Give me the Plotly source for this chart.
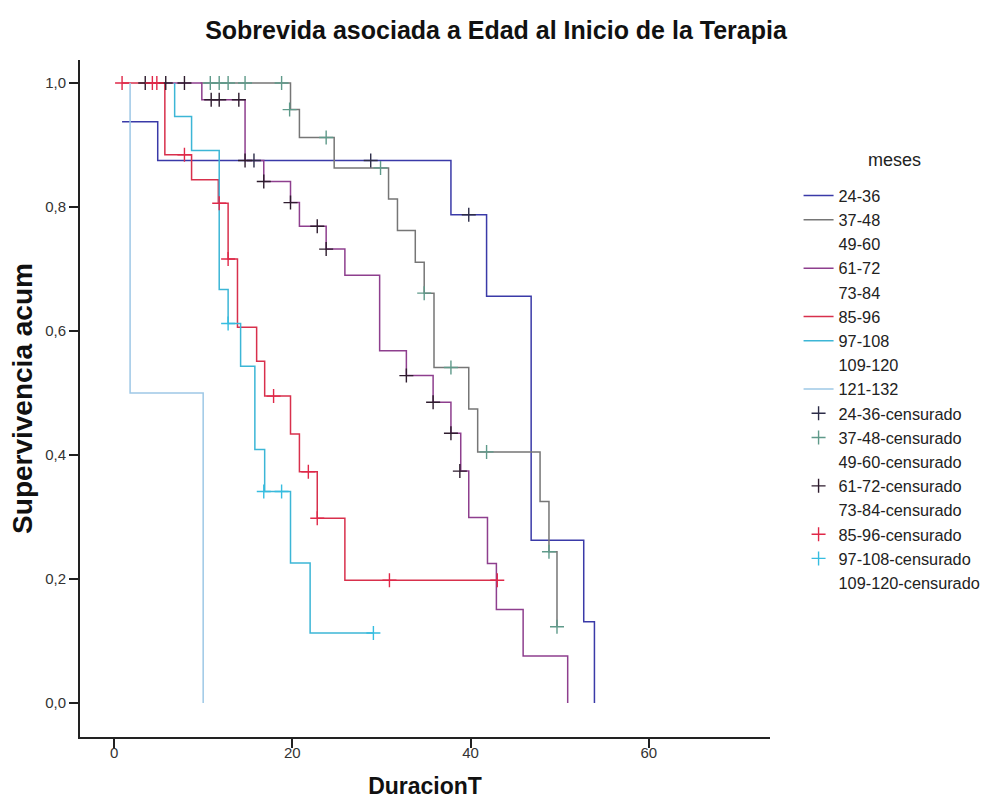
import plotly.graph_objects as go

# Kaplan-Meier step data per age group (meses): event times and cumulative survival
groups = ["24-36", "37-48", "49-60", "61-72", "73-84", "85-96", "97-108", "109-120", "121-132"]

t_24_36 = [0.9, 4.9, 37.8, 41.8, 46.8, 52.7, 53.9]
s_24_36 = [0.9375, 0.875, 0.7875, 0.656, 0.2625, 0.131, 0.0]
ct_24_36 = [15.7, 28.8, 39.8]
cs_24_36 = [0.875, 0.875, 0.7875]

t_37_48 = [9.7, 19.8, 20.8, 24.7, 30.8, 31.8, 33.8, 34.8, 35.9, 39.8, 40.8, 47.8, 48.8, 49.7]
s_37_48 = [1.0, 0.957, 0.912, 0.863, 0.813, 0.762, 0.711, 0.661, 0.541, 0.474, 0.405, 0.325, 0.244, 0.123]
ct_37_48 = [10.8, 11.8, 12.8, 14.7, 18.8, 19.7, 23.8, 29.9, 34.8, 37.8, 41.8, 48.8, 49.7]
cs_37_48 = [1.0, 1.0, 1.0, 1.0, 1.0, 0.957, 0.912, 0.863, 0.661, 0.541, 0.405, 0.244, 0.123]

t_61_72 = [3.5, 9.85, 14.7, 16.8, 19.8, 20.8, 23.8, 25.9, 29.8, 32.8, 35.8, 37.8, 38.9, 39.8, 41.9, 42.9, 45.9, 50.9]
s_61_72 = [1.0, 0.973, 0.875, 0.841, 0.807, 0.769, 0.732, 0.69, 0.568, 0.528, 0.485, 0.435, 0.374, 0.299, 0.225, 0.151, 0.076, 0.0]
ct_61_72 = [3.5, 5.8, 7.9, 10.9, 11.8, 14.0, 14.7, 16.8, 19.8, 22.8, 23.8, 32.8, 35.8, 37.8, 38.8]
cs_61_72 = [1.0, 1.0, 1.0, 0.973, 0.973, 0.973, 0.875, 0.841, 0.807, 0.769, 0.732, 0.528, 0.485, 0.435, 0.374]

t_85_96 = [0.9, 5.7, 8.7, 11.7, 12.8, 13.85, 16.0, 16.9, 19.8, 20.8, 22.8, 25.9, 43.0]
s_85_96 = [1.0, 0.884, 0.844, 0.806, 0.716, 0.606, 0.551, 0.495, 0.434, 0.373, 0.298, 0.198, 0.198]
ct_85_96 = [0.9, 4.3, 4.8, 7.9, 11.8, 12.8, 17.9, 21.8, 22.8, 30.9, 43.0]
cs_85_96 = [1.0, 1.0, 1.0, 0.884, 0.806, 0.716, 0.495, 0.373, 0.298, 0.198, 0.198]

t_97_108 = [6.8, 6.8, 8.7, 11.8, 12.8, 14.2, 15.8, 16.9, 19.8, 22.0, 29.1]
s_97_108 = [1.0, 0.946, 0.891, 0.667, 0.612, 0.543, 0.409, 0.341, 0.226, 0.113, 0.113]
ct_97_108 = [12.8, 16.8, 18.8, 29.1]
cs_97_108 = [0.612, 0.341, 0.341, 0.113]

t_121_132 = [1.8, 1.8, 10.0]
s_121_132 = [1.0, 0.5, 0.0]

# groups without observations keep a legend entry only
EMPTY = ([None], [None])

curves = {
    "24-36": (t_24_36, s_24_36),
    "37-48": (t_37_48, s_37_48),
    "49-60": EMPTY,
    "61-72": (t_61_72, s_61_72),
    "73-84": EMPTY,
    "85-96": (t_85_96, s_85_96),
    "97-108": (t_97_108, s_97_108),
    "109-120": EMPTY,
    "121-132": (t_121_132, s_121_132),
}
censored = {
    "24-36": (ct_24_36, cs_24_36),
    "37-48": (ct_37_48, cs_37_48),
    "49-60": EMPTY,
    "61-72": (ct_61_72, cs_61_72),
    "73-84": EMPTY,
    "85-96": (ct_85_96, cs_85_96),
    "97-108": (ct_97_108, cs_97_108),
    "109-120": EMPTY,
}

CLEAR = "rgba(255,255,255,0)"
line_colors = {
    "24-36": "#3a3aa8",
    "37-48": "#767676",
    "49-60": CLEAR,
    "61-72": "#8e3f8e",
    "73-84": CLEAR,
    "85-96": "#d8304c",
    "97-108": "#3cb6d6",
    "109-120": CLEAR,
    "121-132": "#9ec8e6",
}
mark_colors = {
    "24-36": "#2c2c48",
    "37-48": "#5f9a8a",
    "49-60": CLEAR,
    "61-72": "#2e1c2e",
    "73-84": CLEAR,
    "85-96": "#e02848",
    "97-108": "#36bde0",
    "109-120": CLEAR,
}

FONT = "Liberation Sans, Arial, Helvetica, sans-serif"

fig = go.Figure()

for g in groups:
    xs, ys = curves[g]
    fig.add_trace(go.Scatter(
        x=xs, y=ys, mode="lines", name=g,
        line=dict(color=line_colors[g], width=1.5, shape="hv"),
        showlegend=True,
    ))

for g in groups[:-1]:
    xs, ys = censored[g]
    fig.add_trace(go.Scatter(
        x=xs, y=ys, mode="markers", name=g + "-censurado",
        marker=dict(symbol="cross-thin", size=10,
                    line=dict(color=mark_colors[g], width=1.4)),
        showlegend=True,
    ))

fig.update_layout(
    width=992, height=803,
    paper_bgcolor="white", plot_bgcolor="white",
    margin=dict(l=80, r=222, t=60, b=66, autoexpand=False),
    separators=", ",
    font=dict(family=FONT, color="#222222"),
    title=dict(
        text="<b>Sobrevida asociada a Edad al Inicio de la Terapia</b>",
        x=0.5, xref="container", xanchor="center",
        y=0.962, yref="container", yanchor="middle",
        font=dict(size=25, color="#111111", family=FONT),
    ),
    legend=dict(
        x=1.0414, xanchor="left", y=0.825, yanchor="top",
        font=dict(size=16.3, color="#222222"),
        bgcolor="rgba(0,0,0,0)", traceorder="normal",
    ),
    annotations=[dict(
        text="meses", x=1.181, y=0.852, xref="paper", yref="paper",
        xanchor="center", yanchor="middle", showarrow=False,
        font=dict(size=18, color="#222222", family=FONT),
    )],
)

fig.update_xaxes(
    range=[-3.82, 73.6], tickvals=[0, 20, 40, 60],
    showgrid=False, zeroline=False,
    showline=True, linecolor="#222222", linewidth=2,
    ticks="outside", ticklen=9, tickwidth=1.5, tickcolor="#222222",
    ticklabelstandoff=-8,
    tickfont=dict(size=15, color="#333333"),
    title=dict(text="<b>DuracionT</b>", font=dict(size=23, color="#111111"), standoff=18),
)
fig.update_yaxes(
    range=[-0.0548, 1.037], tickvals=[0, 0.2, 0.4, 0.6, 0.8, 1.0], tickformat=".1f",
    showgrid=False, zeroline=False,
    showline=True, linecolor="#222222", linewidth=2,
    ticks="outside", ticklen=9, tickwidth=1.5, tickcolor="#222222",
    tickfont=dict(size=15, color="#333333"),
    title=dict(text="<b>Supervivencia acum</b>", font=dict(size=28, color="#111111"), standoff=4),
)

fig.write_html("out.html")
